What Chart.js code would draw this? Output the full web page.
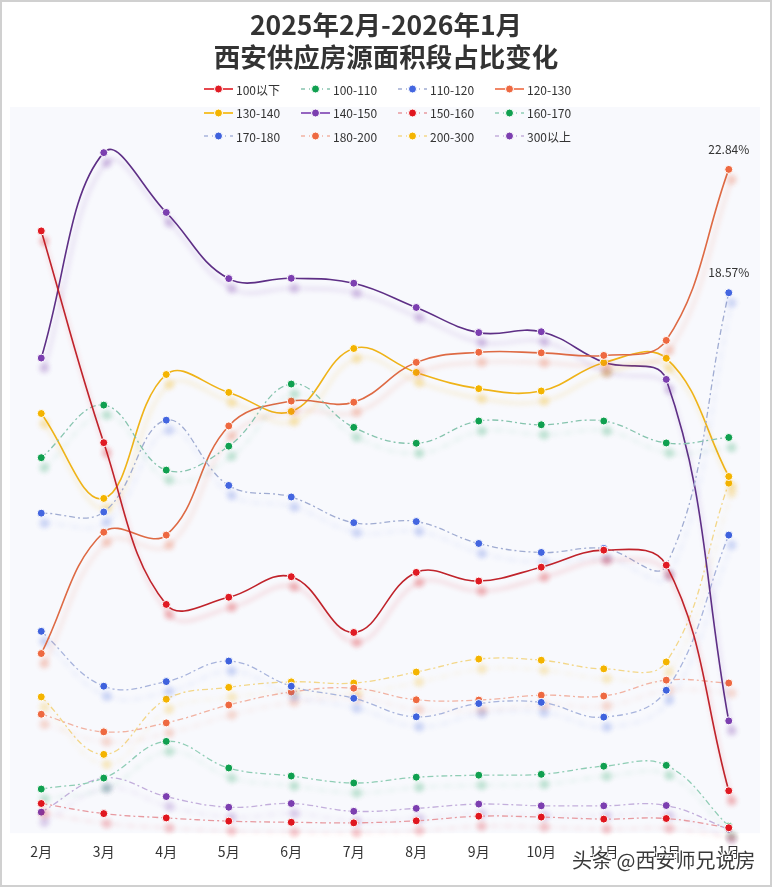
<!DOCTYPE html>
<html>
<head>
<meta charset="utf-8">
<script src="https://cdn.jsdelivr.net/npm/chart.js@4.4.1/dist/chart.umd.min.js"></script>
<style>
  html, body { margin:0; padding:0; background:#fff; }
  #wrap { position:relative; width:772px; height:887px; overflow:hidden; font-family:"Noto Sans CJK SC","Noto Sans",sans-serif; }
  #c { position:absolute; left:0; top:0; }
  #title { position:absolute; left:0; top:8px; width:772px; text-align:center; font-weight:bold; font-size:26.5px; line-height:32px; color:#333; }
  .lg { position:absolute; height:16px; display:flex; align-items:center; font-size:12px; color:#333; white-space:nowrap; }
  .lg svg { margin-right:3px; }
  #wm { position:absolute; left:572px; top:845px; font-size:20px; color:rgba(35,35,35,0.9); letter-spacing:0px;
        text-shadow: 1px 0 #fff, -1px 0 #fff, 0 1px #fff, 0 -1px #fff, 1px 1px #fff, -1px -1px #fff; }
  #frame { position:absolute; left:0; top:0; width:772px; height:887px; box-sizing:border-box; border:2px solid #d0d0d0; pointer-events:none; }
</style>
</head>
<body>
<div id="wrap">
  <canvas id="c" width="772" height="887"></canvas>
  <div id="title">2025年2月-2026年1月<br>西安供应房源面积段占比变化</div>
  <div id="legend"></div>
  <div id="wm">头条 @西安师兄说房</div>
  <div id="frame"></div>
</div>
<script>
// ---- data ----
const months = ['2月','3月','4月','5月','6月','7月','8月','9月','10月','11月','12月','1月'];
const seriesNames = ['100以下','100-110','110-120','120-130','130-140','140-150','150-160','160-170','170-180','180-200','200-300','300以上'];

const s100below = [20.71, 13.38, 7.78, 8.03, 8.74, 6.81, 8.89, 8.59, 9.07, 9.66, 9.14, 1.33];
const s100_110  = [12.86, 14.68, 12.43, 13.26, 15.41, 13.91, 13.36, 14.13, 14.00, 14.13, 13.37, 13.56];
const s110_120  = [10.94, 10.98, 14.16, 11.90, 11.50, 10.61, 10.65, 9.89, 9.58, 9.72, 9.14, 18.57];
const s120_130  = [6.08, 10.28, 10.18, 13.96, 14.82, 14.78, 16.16, 16.51, 16.49, 16.40, 16.92, 22.84];
const s130_140  = [14.39, 11.45, 15.74, 15.12, 14.46, 16.64, 15.81, 15.25, 15.17, 16.15, 16.30, 12.21];
const s140_150  = [16.31, 23.42, 21.35, 19.06, 19.07, 18.90, 18.06, 17.19, 17.22, 16.16, 15.57, 3.75];
const s150_160  = [0.89, 0.54, 0.39, 0.28, 0.24, 0.22, 0.29, 0.45, 0.42, 0.35, 0.37, 0.05];
const s160_170  = [1.39, 1.77, 3.04, 2.12, 1.84, 1.60, 1.80, 1.87, 1.90, 2.18, 2.21, 0.10];
const s170_180  = [6.85, 4.95, 5.11, 5.82, 4.95, 4.53, 3.89, 4.35, 4.39, 3.88, 4.81, 10.18];
const s180_200  = [3.98, 3.37, 3.68, 4.30, 4.75, 4.88, 4.48, 4.47, 4.64, 4.61, 5.16, 5.06];
const s200_300  = [4.58, 2.59, 4.50, 4.91, 5.10, 5.06, 5.44, 5.89, 5.85, 5.55, 5.79, 11.98];
const s300_up   = [0.59, 1.77, 1.13, 0.76, 0.89, 0.62, 0.72, 0.87, 0.81, 0.81, 0.82, 0.00];

const seriesValues = [s100below, s100_110, s110_120, s120_130, s130_140, s140_150, s150_160, s160_170, s170_180, s180_200, s200_300, s300_up];
// which points carry a value label: [seriesIndex, pointIndex]
const labeledPoints = [[3, 11], [2, 11]];

// ---- styles ----
const pointColors = ['#e01b24','#10a050','#4466e0','#ee6941','#f4b400','#7c3fb0','#e0161f','#10a050','#3f62dd','#ee6941','#f4b400','#7c3fb0'];
const lineColors  = ['#c0232b','#86c4ae','#a0acd2','#de6a44','#efb318','#5e2f86','#e79aa0','#8fcdb5','#a8b4dc','#f1b2a2','#f3d789','#c3afdc'];
const solid       = [true,false,false,true,true,true,false,false,false,false,false,false];

function hexA(hex, a){
  const n = parseInt(hex.slice(1),16);
  return `rgba(${(n>>16)&255},${(n>>8)&255},${n&255},${a})`;
}

const datasets = seriesNames.map((name,i)=>({
  label: name,
  data: seriesValues[i],
  borderColor: lineColors[i],
  backgroundColor: pointColors[i],
  pointBackgroundColor: pointColors[i],
  pointBorderColor: '#ffffff',
  pointBorderWidth: 1,
  pointRadius: 4,
  pointHoverRadius: 4,
  borderWidth: solid[i] ? 1.6 : 1.3,
  borderDash: solid[i] ? [] : [6,3,2,3],
  tension: 0.4,
  fill: false,
  clip: false,
  shadowCol: hexA(pointColors[i], solid[i] ? 0.28 : 0.22)
}));

// ---- legend (HTML) ----
const legend = document.getElementById('legend');
seriesNames.forEach((name,i)=>{
  const col = i % 4, row = Math.floor(i/4);
  const d = document.createElement('div');
  d.className = 'lg';
  d.style.left = (204 + col*97) + 'px';
  d.style.top = (81 + row*23.5) + 'px';
  const lc = solid[i] ? pointColors[i] : lineColors[i];
  const dash = solid[i] ? '' : 'stroke-dasharray="4 4 1 4"';
  d.innerHTML = `<svg width="29" height="12"><line x1="0" y1="6" x2="29" y2="6" stroke="${lc}" stroke-width="1.6" ${dash}/><circle cx="14.5" cy="6" r="4" fill="${pointColors[i]}" stroke="#fff" stroke-width="1"/></svg><span>${name}</span>`;
  legend.appendChild(d);
});

// ---- plugins ----
const bgPlugin = {
  id: 'bg',
  beforeDraw(chart){
    const {ctx, chartArea:a} = chart;
    ctx.save();
    ctx.fillStyle = '#f8f9fd';
    ctx.fillRect(a.left, a.top, a.right - a.left, a.bottom - a.top + 4);
    ctx.restore();
  }
};
const shadowPlugin = {
  id: 'shadow',
  beforeDatasetDraw(chart, args){
    const ctx = chart.ctx;
    ctx.save();
    const ds = chart.data.datasets[args.index];
    ctx.shadowColor = ds.shadowCol;
    ctx.shadowBlur = 5;
    ctx.shadowOffsetX = 3;
    ctx.shadowOffsetY = 10;
  },
  afterDatasetDraw(chart){
    chart.ctx.restore();
  }
};
const labelPlugin = {
  id: 'vlabels',
  afterDatasetsDraw(chart){
    const ctx = chart.ctx;
    ctx.save();
    ctx.font = '12px "Noto Sans CJK SC", "Noto Sans", sans-serif';
    ctx.fillStyle = '#333';
    ctx.textAlign = 'center';
    ctx.textBaseline = 'middle';
    labeledPoints.forEach(([si, pi])=>{
      const pt = chart.getDatasetMeta(si).data[pi];
      ctx.fillText(seriesValues[si][pi].toFixed(2) + '%', pt.x, pt.y - 20);
    });
    ctx.restore();
  }
};

new Chart(document.getElementById('c'), {
  type: 'line',
  data: { labels: months, datasets },
  options: {
    responsive: false,
    maintainAspectRatio: false,
    devicePixelRatio: 1,
    animation: false,
    layout: { padding: { top: 107, left: 10, right: 12, bottom: 13 } },
    plugins: { legend: { display: false }, title: { display: false }, tooltip: { enabled: false } },
    scales: {
      x: {
        offset: true,
        grid: { display: false, drawTicks: false },
        border: { display: false },
        ticks: { color: '#333', padding: 14, maxRotation: 0, autoSkip: false,
                 font: { size: 14, family: '"Noto Sans CJK SC", "Noto Sans", sans-serif' } }
      },
      y: { display: false, min: 0, max: 25 }
    }
  },
  plugins: [bgPlugin, shadowPlugin, labelPlugin]
});
</script>
</body>
</html>
